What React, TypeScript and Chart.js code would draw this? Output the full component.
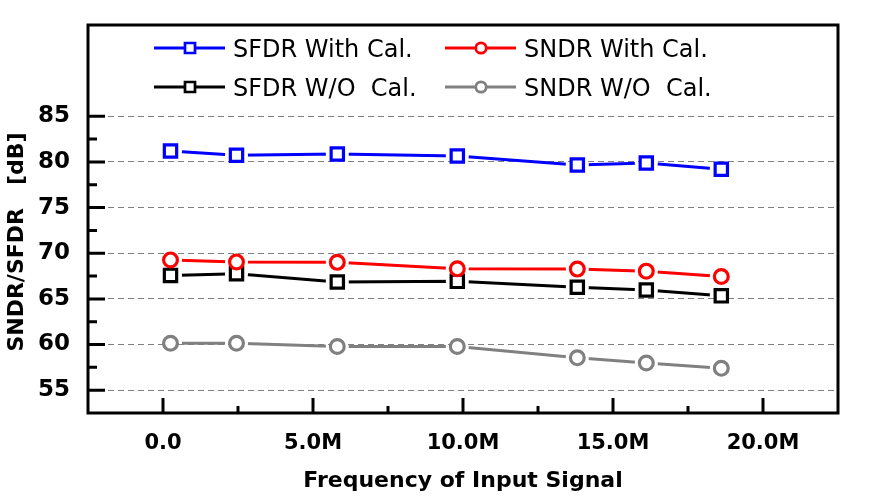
import React, { useEffect, useRef } from 'react';
import { Chart, registerables } from 'chart.js';

Chart.register(...registerables);

// ---- data ----
const freqMHz = [0.25, 2.45, 5.81, 9.81, 13.81, 16.11, 18.61];
const sfdrWithCal = [81.2, 80.73, 80.87, 80.65, 79.67, 79.89, 79.2];
const sndrWithCal = [69.27, 69.05, 69.0, 68.29, 68.26, 68.04, 67.45];
const sfdrWithoutCal = [67.57, 67.75, 66.85, 66.92, 66.27, 65.98, 65.33];
const sndrWithoutCal = [60.14, 60.14, 59.78, 59.78, 58.54, 57.97, 57.39];

const seriesLabels = ['SFDR With Cal.', 'SNDR With Cal.', 'SFDR W/O  Cal.', 'SNDR W/O  Cal.'];
const seriesValues = [sfdrWithCal, sndrWithCal, sfdrWithoutCal, sndrWithoutCal];
const seriesColors = ['#0000ff', '#ff0000', '#000000', '#808080'];
const seriesShapes = ['rect', 'circle', 'rect', 'circle'];

const yTickValues = [55, 57.5, 60, 62.5, 65, 67.5, 70, 72.5, 75, 77.5, 80, 82.5, 85];
const yMajorTicks = [55, 60, 65, 70, 75, 80, 85];
const xTickValues = [0, 2.5, 5, 7.5, 10, 12.5, 15, 17.5, 20];
const xMajorTicks = [0, 5, 10, 15, 20];
const xMajorLabels = ['0.0', '5.0M', '10.0M', '15.0M', '20.0M'];

const xTitle = 'Frequency of Input Signal';
const yTitle = 'SNDR/SFDR   [dB]';

const FONT = "'DejaVu Sans', sans-serif";

const framePlugin = {
  id: 'framePlugin',
  beforeDatasetDraw(chart: any, args: any) {
    const ds = chart.data.datasets[args.index];
    if (ds.gapFor === undefined) return;
    const pts = chart.getDatasetMeta(ds.gapFor).data;
    const ctx = chart.ctx;
    const R = 11.5;
    ctx.save();
    ctx.beginPath();
    ctx.rect(0, 0, chart.width, chart.height);
    for (const p of pts) {
      ctx.moveTo(p.x + R, p.y);
      ctx.arc(p.x, p.y, R, 0, Math.PI * 2);
    }
    ctx.clip('evenodd');
  },
  afterDatasetDraw(chart: any, args: any) {
    const ds = chart.data.datasets[args.index];
    if (ds.gapFor === undefined) return;
    chart.ctx.restore();
  },
  afterDraw(chart: any) {
    const ctx = chart.ctx;
    const a = chart.chartArea;
    const xs = chart.scales.x;
    const ys = chart.scales.y;
    ctx.save();
    ctx.strokeStyle = '#000';
    ctx.lineWidth = 3;
    ctx.lineCap = 'butt';
    // inward tick marks
    ctx.beginPath();
    for (const v of yTickValues) {
      const py = ys.getPixelForValue(v);
      const len = yMajorTicks.includes(v) ? 17 : 9;
      ctx.moveTo(a.left, py);
      ctx.lineTo(a.left + len, py);
    }
    for (const v of xTickValues) {
      const px = xs.getPixelForValue(v);
      const len = xMajorTicks.includes(v) ? 15 : 7;
      ctx.moveTo(px, a.bottom);
      ctx.lineTo(px, a.bottom - len);
    }
    ctx.stroke();
    // frame
    ctx.strokeRect(a.left, a.top, a.right - a.left, a.bottom - a.top);

    // y title
    ctx.save();
    ctx.translate(a.left - 71, (a.top + a.bottom) / 2 + 23);
    ctx.rotate(-Math.PI / 2);
    ctx.fillStyle = '#000';
    ctx.font = `bold 22px ${FONT}`;
    ctx.textAlign = 'center';
    ctx.textBaseline = 'middle';
    ctx.fillText(yTitle, 0, 0);
    ctx.restore();

    // legend
    const colX = [a.left + 66, a.left + 357];
    const rowY = [a.top + 23, a.top + 62];
    ctx.font = `24px ${FONT}`;
    ctx.textAlign = 'left';
    ctx.textBaseline = 'alphabetic';
    seriesLabels.forEach((label, i) => {
      const x0 = colX[i % 2];
      const y0 = rowY[Math.floor(i / 2)];
      const color = seriesColors[i];
      ctx.strokeStyle = color;
      ctx.lineWidth = 3;
      ctx.beginPath();
      ctx.moveTo(x0, y0);
      ctx.lineTo(x0 + 71, y0);
      ctx.stroke();
      const cx = x0 + 36;
      ctx.fillStyle = '#fff';
      ctx.lineWidth = 2.7;
      ctx.beginPath();
      if (seriesShapes[i] === 'rect') {
        ctx.rect(cx - 5, y0 - 5, 10, 10);
      } else {
        ctx.arc(cx, y0, 5.2, 0, Math.PI * 2);
      }
      ctx.fill();
      ctx.stroke();
      ctx.fillStyle = '#000';
      ctx.fillText(label, x0 + 79, y0 + 9);
    });
    ctx.restore();
  },
};

export default function App() {
  const canvasRef = useRef<HTMLCanvasElement | null>(null);

  useEffect(() => {
    const canvas = canvasRef.current;
    if (!canvas) return;

    const pointSets = seriesValues.map((vals, i) => ({
      label: seriesLabels[i],
      data: freqMHz.map((x, j) => ({ x, y: vals[j] })),
      showLine: false,
      pointStyle: seriesShapes[i],
      pointRadius: seriesShapes[i] === 'rect' ? 8.7 : 6.9,
      pointBorderWidth: 3.2,
      pointBackgroundColor: '#ffffff',
      pointBorderColor: seriesColors[i],
      borderColor: seriesColors[i],
    }));
    const lineSets = seriesValues.map((vals, i) => ({
      label: seriesLabels[i] + ' line',
      data: freqMHz.map((x, j) => ({ x, y: vals[j] })),
      showLine: true,
      pointRadius: 0,
      borderColor: seriesColors[i],
      borderWidth: 3,
      tension: 0,
      fill: false,
      gapFor: i,
    }));

    const chart = new Chart(canvas, {
      type: 'line',
      data: { datasets: [...pointSets, ...lineSets] as any },
      plugins: [framePlugin],
      options: {
        animation: false,
        responsive: false,
        layout: { padding: { top: 25, right: 48, left: 0, bottom: 0 } },
        plugins: { legend: { display: false }, tooltip: { enabled: false } },
        scales: {
          x: {
            type: 'linear',
            min: -2.5,
            max: 22.5,
            afterBuildTicks: (s: any) => {
              s.ticks = xTickValues.map((v) => ({ value: v }));
            },
            afterFit: (s: any) => {
              s.height = 87;
              s.paddingLeft = 0;
              s.paddingRight = 0;
            },
            grid: { display: false, drawTicks: false },
            border: { display: false },
            ticks: {
              autoSkip: false,
              maxRotation: 0,
              padding: 18,
              color: '#000',
              font: { family: FONT, weight: 'bold', size: 21 },
              callback: (v: any) => {
                const idx = xMajorTicks.indexOf(Number(v));
                return idx >= 0 ? xMajorLabels[idx] : '';
              },
            },
            title: {
              display: true,
              text: xTitle,
              color: '#000',
              font: { family: FONT, weight: 'bold', size: 22 },
              padding: { top: 6, bottom: 6 },
            },
          },
          y: {
            type: 'linear',
            min: 52.5,
            max: 95,
            afterBuildTicks: (s: any) => {
              s.ticks = yTickValues.map((v) => ({ value: v }));
            },
            afterFit: (s: any) => {
              s.width = 88;
              s.paddingTop = 0;
              s.paddingBottom = 0;
            },
            grid: {
              drawTicks: false,
              lineWidth: 1,
              color: (c: any) =>
                c.tick && yMajorTicks.includes(c.tick.value) ? '#808080' : 'rgba(0,0,0,0)',
            },
            border: { display: false, dash: [6, 4] },
            ticks: {
              autoSkip: false,
              padding: 18,
              color: '#000',
              font: { family: FONT, weight: 'bold', size: 23 },
              callback: (v: any) => (yMajorTicks.includes(Number(v)) ? String(v) : ''),
            },
          },
        },
      } as any,
    });

    return () => chart.destroy();
  }, []);

  return (
    <div style={{ position: 'absolute', left: 0, top: 0, width: 886, height: 500, background: '#fff' }}>
      <canvas ref={canvasRef} width={886} height={500} />
    </div>
  );
}
